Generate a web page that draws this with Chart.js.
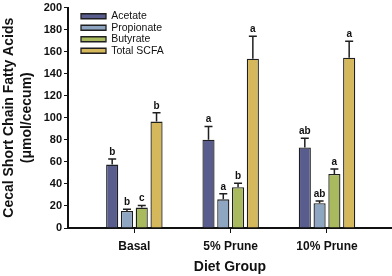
<!DOCTYPE html>
<html><head><meta charset="utf-8">
<script src="https://cdn.jsdelivr.net/npm/chart.js@4/dist/chart.umd.min.js"></script>
<style>html,body{margin:0;padding:0;background:#fff}#wrap{width:392px;height:276px}</style>
</head><body><div id="wrap"><canvas id="c" width="392" height="276"></canvas></div>
<script>
const categories = ['Basal', '5% Prune', '10% Prune'];
const seriesNames = ['Acetate', 'Propionate', 'Butyrate', 'Total SCFA'];
const acetate = [57.5, 80, 73];
const propionate = [15.5, 26, 22.5];
const butyrate = [18.5, 37, 49];
const totalSCFA = [96.5, 153.5, 154.5];
const acetateErr = [5, 12, 8.5];
const propionateErr = [1.5, 5, 2];
const butyrateErr = [2, 3.6, 4.5];
const totalErr = [8, 20.5, 15];
const acetateLetters = ['b', 'a', 'ab'];
const propionateLetters = ['b', 'a', 'ab'];
const butyrateLetters = ['c', 'b', 'a'];
const totalLetters = ['b', 'a', 'a'];
const yTicks = [0, 20, 40, 60, 80, 100, 120, 140, 160, 180, 200];

const FONT = "Arial, 'Liberation Sans', sans-serif";
const colors = ['#585d8d', '#8fa6c2', '#a9b95e', '#d5b75c'];
const values = [acetate, propionate, butyrate, totalSCFA];
const errs = [acetateErr, propionateErr, butyrateErr, totalErr];
const letters = [acetateLetters, propionateLetters, butyrateLetters, totalLetters];

const datasets = seriesNames.map((n, k) => ({
  label: n,
  data: values[k].map((v, i) => ({x: i, y: v})),
  backgroundColor: colors[k],
  borderColor: '#1f1f1f',
  borderWidth: 1.3,
  categoryPercentage: 0.614,
  barPercentage: 0.82,
  errs: errs[k],
  letters: letters[k]
}));

const errPlugin = {
  id: 'err',
  afterDatasetsDraw(chart) {
    const ctx = chart.ctx, y = chart.scales.y;
    chart.data.datasets.forEach((ds, k) => {
      const meta = chart.getDatasetMeta(k);
      meta.data.forEach((el, i) => {
        const v = ds.data[i].y, e = ds.errs[i];
        const top = y.getPixelForValue(v + e);
        ctx.save();
        ctx.strokeStyle = '#1f1f1f';
        ctx.lineWidth = 1.5;
        ctx.beginPath();
        ctx.moveTo(el.x, el.y);
        ctx.lineTo(el.x, top);
        ctx.moveTo(el.x - 4, top);
        ctx.lineTo(el.x + 4, top);
        ctx.stroke();
        ctx.fillStyle = '#111';
        ctx.font = 'bold 10px ' + FONT;
        ctx.textAlign = 'center';
        ctx.textBaseline = 'bottom';
        ctx.fillText(ds.letters[i], el.x, top - 2);
        ctx.restore();
      });
    });
  }
};

const legendShift = {
  id: 'legendShift',
  afterLayout(chart) {
    const l = chart.legend;
    if (l) { l.left += 12; l.right += 12; l.top += 10; l.bottom += 10; }
  }
};

new Chart(document.getElementById('c'), {
  type: 'bar',
  data: { datasets },
  plugins: [errPlugin, legendShift],
  options: {
    responsive: false,
    animation: false,
    layout: { padding: { top: 0, right: 0, left: 0, bottom: 0 } },
    plugins: {
      tooltip: { enabled: false },
      legend: {
        position: 'chartArea',
        align: 'start',
        labels: {
          boxWidth: 25, boxHeight: 5, padding: 1,
          color: '#111',
          font: { family: FONT, size: 10.5 }
        }
      }
    },
    scales: {
      x: {
        type: 'linear',
        offset: false,
        min: -0.689, max: 2.675,
        afterFit(s) { s.height = 48; },
        afterBuildTicks(s) { s.ticks = categories.map((c, i) => ({value: i})); },
        border: { display: true, color: '#111', width: 2 },
        grid: { offset: false, drawOnChartArea: false, drawTicks: true, tickLength: 5, color: '#111', lineWidth: 1 },
        ticks: {
          autoSkip: false, maxRotation: 0,
          color: '#111', padding: 6,
          font: { family: FONT, size: 12, weight: 'bold' },
          callback: (v) => categories[v]
        },
        title: { display: true, text: 'Diet Group', color: '#111', padding: { top: 4, bottom: 0 },
          font: { family: FONT, size: 14, weight: 'bold' } }
      },
      y: {
        min: 0, max: 200,
        afterFit(s) { s.width = 68; },
        afterBuildTicks(s) { s.ticks = yTicks.map(v => ({value: v})); },
        border: { display: true, color: '#111', width: 2 },
        grid: { drawOnChartArea: false, drawTicks: true, tickLength: 4, color: '#111' },
        ticks: { color: '#111', padding: 2, font: { family: FONT, size: 11, weight: 'bold', lineHeight: 1 } },
        title: { display: true, text: ['Cecal Short Chain Fatty Acids', '(\u03bcmol/cecum)'], color: '#111',
          padding: { top: 0, bottom: 0 }, font: { family: FONT, size: 14, weight: 'bold', lineHeight: 1.3 } }
      }
    }
  }
});
</script>
</body></html>
